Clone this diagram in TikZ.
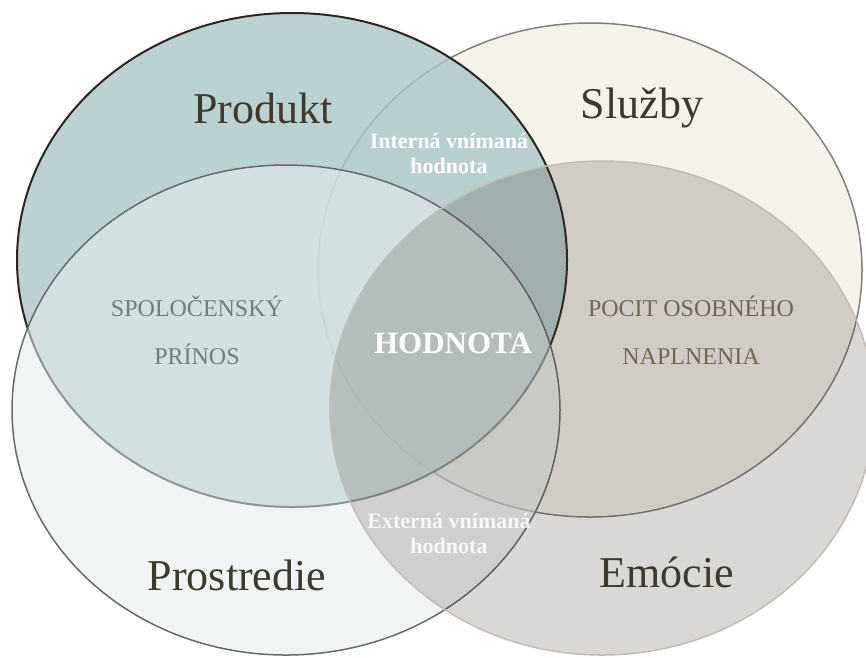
\documentclass[tikz,border=0pt]{standalone}
\usepackage{fontspec}
\setmainfont{Liberation Serif}

\definecolor{produktfill}{RGB}{171,198,199}
\definecolor{sluzbyfill}{RGB}{245,242,236}
\definecolor{prostrediefill}{RGB}{230,236,237}
\definecolor{emociefill}{RGB}{65,60,50}
\definecolor{produktline}{RGB}{40,38,32}
\definecolor{sluzbyline}{RGB}{128,128,128}
\definecolor{prostredieline}{RGB}{105,105,105}
\definecolor{emocieline}{RGB}{195,188,178}
\definecolor{titletext}{RGB}{60,58,45}
\definecolor{spoltext}{RGB}{110,128,119}
\definecolor{pocittext}{RGB}{110,104,80}

\begin{document}
\begin{tikzpicture}[x=1pt,y=-1pt,
    title/.style={inner sep=0pt,text=titletext,font=\fontsize{44}{44}\selectfont},
    caps/.style={inner sep=0pt,align=center,font=\fontsize{24}{48}\selectfont},
    inner/.style={inner sep=0pt,align=center,text=white,font=\bfseries\fontsize{22}{25}\selectfont}]
  	\useasboundingbox (0,0) rectangle (866,657);
  	\clip (0,0) rectangle (866,657);

  	% the four sets
  	\draw[line width=1.5pt,sluzbyline,fill=sluzbyfill] (590,270) ellipse [x radius=272,y radius=247];
  	\draw[line width=2pt,produktline,fill=produktfill,fill opacity=0.8] (292,260) ellipse [x radius=275,y radius=247];
  	\draw[line width=1.5pt,prostredieline,fill=prostrediefill,fill opacity=0.56] (286,410) ellipse [x radius=274,y radius=245];
  	\draw[line width=1.5pt,emocieline,fill=emociefill,fill opacity=0.2] (602,408) ellipse [x radius=272,y radius=247];

  	\node[title] (produkt) at (263,108) {Produkt};
  	\node[title] (sluzby) at (642,108) {Služby};
  	\node[title] (prostredie) at (237,575) {Prostredie};
  	\node[title] (emocie) at (667,572) {Emócie};

  	\node[caps,text=spoltext] (prinos) at (197,330) {SPOLOČENSKÝ\\PRÍNOS};
  	\node[caps,text=pocittext] (naplnenie) at (691,330) {POCIT OSOBNÉHO\\NAPLNENIA};

  	\node[inner,font=\bfseries\fontsize{31}{31}\selectfont] (hodnota) at (453,343) {HODNOTA};
  	\node[inner] (interna) at (449,153) {Interná vnímaná\\hodnota};
  	\node[inner,text opacity=0.85] (externa) at (449,533) {Externá vnímaná\\hodnota};
\end{tikzpicture}
\end{document}
